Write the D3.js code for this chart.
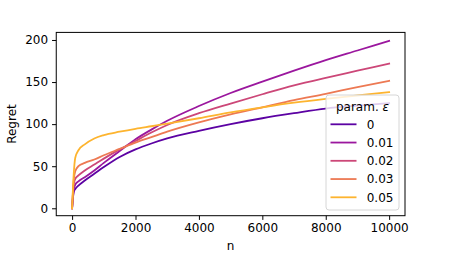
<!DOCTYPE html>
<html>
<head>
<meta charset="utf-8">
<script src="https://cdn.jsdelivr.net/npm/d3@7"></script>
<style>
  body { margin: 0; background: #fff; }
  svg { display: block; font-family: "DejaVu Sans", sans-serif; }
</style>
</head>
<body>
<div id="chart"></div>
<script>
// n-Werte (gemeinsame Stützstellen)
const nSteps = [0, 50, 100, 200, 400, 700, 1000, 1500, 2000, 2500, 3000, 4000, 5000, 6000, 7000, 8000, 9000, 10000];

// Regret pro Parameter ε
const regret0    = [0, 19, 23, 27, 33, 41, 49, 61, 70, 77, 83, 92, 100, 107, 113, 118.5, 122, 125];
const regret001  = [0, 22, 28, 32, 37, 45, 54, 68, 82, 93.5, 104, 121.5, 137, 150.5, 163.5, 176, 187.5, 199];
const regret002  = [0, 28, 35, 39, 45, 52, 59, 70, 80, 90, 99, 113, 124.5, 135.5, 146, 155, 163.5, 172];
const regret003  = [0, 33, 44, 50, 54, 58, 63, 70.5, 78, 84.5, 91, 102, 111.5, 120, 128.5, 136, 144, 151.5];
const regret005  = [0, 40, 60, 69, 76, 83, 87, 91, 94.5, 97.5, 100.5, 107, 114, 120, 125.5, 130, 134, 138];

const seriesNames = ['0', '0.01', '0.02', '0.03', '0.05'];
const seriesValues = [regret0, regret001, regret002, regret003, regret005];
const seriesColors = ['#5c02a3', '#9b179e', '#cc4778', '#ed7953', '#fdb42f'];

const xTicks = [0, 2000, 4000, 6000, 8000, 10000];
const yTicks = [0, 50, 100, 150, 200];

const width = 450, height = 270;
const plot = { left: 56.25, right: 405, top: 32.4, bottom: 215.7 };
const fs = '12px';

const svg = d3.select('#chart').append('svg')
  .attr('width', width)
  .attr('height', height);

const x = d3.scaleLinear().domain([-500, 10500]).range([plot.left, plot.right]);
const y = d3.scaleLinear().domain([-8.8, 209]).range([plot.bottom, plot.top]);

// Linien
const line = d3.line()
  .x((d, i) => x(nSteps[i]))
  .y(d => y(d))
  .curve(d3.curveMonotoneX);

svg.append('clipPath').attr('id', 'plotclip')
  .append('rect')
  .attr('x', plot.left).attr('y', plot.top)
  .attr('width', plot.right - plot.left).attr('height', plot.bottom - plot.top);

svg.append('g').attr('clip-path', 'url(#plotclip)')
  .selectAll('path')
  .data(seriesValues)
  .join('path')
  .attr('d', d => line(d))
  .attr('fill', 'none')
  .attr('stroke', (d, i) => seriesColors[i])
  .attr('stroke-width', 1.8)
  .attr('stroke-linejoin', 'round')
  .attr('stroke-linecap', 'square');

// Achsen
const xAxis = svg.append('g')
  .attr('transform', `translate(0,${plot.bottom})`)
  .call(d3.axisBottom(x).tickValues(xTicks).tickFormat(d3.format('d')).tickSizeOuter(0).tickSize(4.2).tickPadding(4));

const yAxis = svg.append('g')
  .attr('transform', `translate(${plot.left},0)`)
  .call(d3.axisLeft(y).tickValues(yTicks).tickFormat(d3.format('d')).tickSizeOuter(0).tickSize(4.2).tickPadding(4));

[xAxis, yAxis].forEach(a => {
  a.select('.domain').remove();
  a.selectAll('.tick line').attr('stroke', '#000').attr('stroke-width', 1);
  a.selectAll('.tick text')
    .attr('fill', '#000')
    .attr('font-size', fs)
    .attr('font-family', '"DejaVu Sans", sans-serif');
});

// Rahmen
svg.append('rect')
  .attr('x', plot.left).attr('y', plot.top)
  .attr('width', plot.right - plot.left).attr('height', plot.bottom - plot.top)
  .attr('fill', 'none')
  .attr('stroke', '#000')
  .attr('stroke-width', 1);

// Achsentitel
svg.append('text')
  .attr('x', (plot.left + plot.right) / 2)
  .attr('y', 250)
  .attr('text-anchor', 'middle')
  .attr('font-size', fs)
  .text('n');

svg.append('text')
  .attr('transform', `translate(16,${(plot.top + plot.bottom) / 2}) rotate(-90)`)
  .attr('text-anchor', 'middle')
  .attr('font-size', fs)
  .text('Regret');

// Legende
const legend = svg.append('g').attr('transform', 'translate(326,95)');

legend.append('rect')
  .attr('width', 73).attr('height', 115)
  .attr('rx', 3)
  .attr('fill', 'rgba(255,255,255,0.8)')
  .attr('stroke', '#d6d6d6')
  .attr('stroke-width', 1);

const title = legend.append('text')
  .attr('x', 36.5)
  .attr('y', 15.5)
  .attr('text-anchor', 'middle')
  .attr('font-size', fs);
title.append('tspan').text('param. ');
title.append('tspan').attr('font-style', 'italic').text('ε');

const items = legend.selectAll('g.item')
  .data(seriesNames)
  .join('g')
  .attr('class', 'item')
  .attr('transform', (d, i) => `translate(0,${29.3 + i * 18.25})`);

items.append('line')
  .attr('x1', 4.5).attr('x2', 30.5)
  .attr('stroke', (d, i) => seriesColors[i])
  .attr('stroke-width', 1.8);

items.append('text')
  .attr('x', 40.7)
  .attr('dy', '0.35em')
  .attr('font-size', fs)
  .text(d => d);
</script>
</body>
</html>
